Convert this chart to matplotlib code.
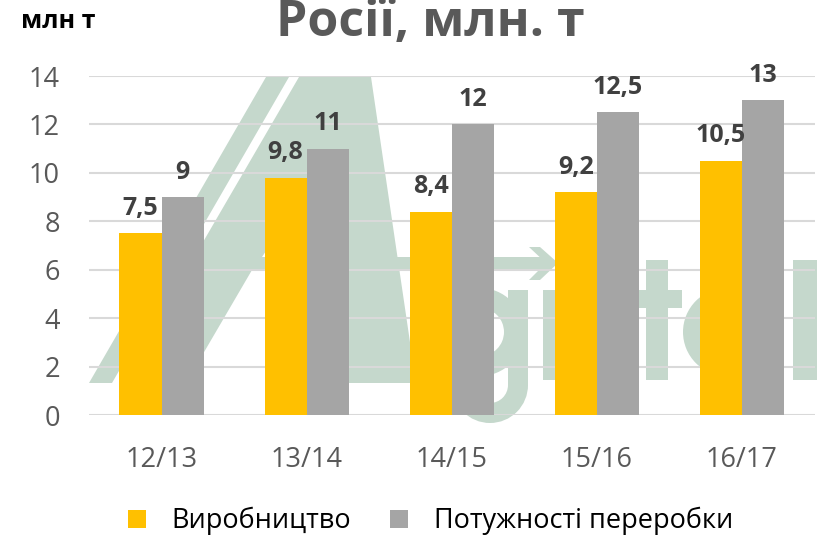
import numpy as np
import matplotlib.pyplot as plt
from matplotlib.patches import Polygon, Rectangle, Wedge

plt.rcParams['font.family'] = ['Open Sans', 'DejaVu Sans']

### DATA
seasons = ['12/13', '13/14', '14/15', '15/16', '16/17']
production = [7.5, 9.8, 8.4, 9.2, 10.5]
capacity = [9, 11, 12, 12.5, 13]
labels_prod = ['7,5', '9,8', '8,4', '9,2', '10,5']
labels_cap = ['9', '11', '12', '12,5', '13']
name_prod = 'Виробництво'
name_cap = 'Потужності переробки'

yellow = '#FFC000'
grey = '#A5A5A5'
wm = '#C5D8CC'   # watermark green

fig = plt.figure(figsize=(8.17, 5.38), dpi=100)

### watermark (background, in pixel coords)
bg = fig.add_axes([0, 0, 1, 1], zorder=-1)
bg.set_xlim(0, 817)
bg.set_ylim(538, 0)
bg.axis('off')
# thin stroke of the "A"
bg.add_patch(Polygon([(89, 383), (112, 383), (289, 77), (266, 77)], color=wm, lw=0))
# body of the "A" with the crossbar
bg.add_patch(Polygon([(299, 77), (371, 77), (416, 383), (345, 383), (335, 270),
                      (252, 270), (186, 383), (121, 383)], color=wm, lw=0))
bg.add_patch(Polygon([(262, 257), (332, 257), (300, 200)], color='white', lw=0))
# arrow
bg.add_patch(Rectangle((330, 257), 220, 13, color=wm, lw=0))
bg.add_patch(Polygon([(529, 247), (540, 247), (558, 263), (540, 280), (529, 280), (546, 263)],
                     color=wm, lw=0))
# "g"
bg.add_patch(Wedge((480, 332), 44, 0, 360, width=20, color=wm, lw=0))
bg.add_patch(Rectangle((508, 290), 20, 95, color=wm, lw=0))
bg.add_patch(Wedge((490, 385), 38, 0, 180, width=20, color=wm, lw=0))
# "r"
bg.add_patch(Rectangle((543, 290), 15, 90, color=wm, lw=0))
# "t"
bg.add_patch(Rectangle((646, 260), 22, 120, color=wm, lw=0))
bg.add_patch(Rectangle((638, 290), 44, 18, color=wm, lw=0))
# "e"
bg.add_patch(Wedge((727, 332), 44, 0, 360, width=20, color=wm, lw=0))
# "l"
bg.add_patch(Rectangle((793, 260), 24, 120, color=wm, lw=0))

### MAIN AXES
ax = fig.add_axes([89/817, 1-415/538, (814.5-89)/817, (415-76)/538])
ax.set_facecolor('none')
x = np.arange(len(seasons))
w = 0.29
b1 = ax.bar(x - w/2, production, w, color=yellow, label=name_prod, zorder=3)
b2 = ax.bar(x + w/2, capacity, w, color=grey, label=name_cap, zorder=3)
ax.bar_label(b1, labels=labels_prod, padding=9, fontsize=18, fontweight='bold', color='#404040')
ax.bar_label(b2, labels=labels_cap, padding=9, fontsize=18, fontweight='bold', color='#404040')

ax.set_xlim(-0.5, 4.5)
ax.set_ylim(0, 14)
ax.set_yticks(range(0, 15, 2))
ax.set_xticks(x)
ax.set_xticklabels(seasons)
ax.tick_params(axis='both', length=0, labelsize=19.5, labelcolor='#595959')
ax.tick_params(axis='x', pad=22)
ax.tick_params(axis='y', pad=21)
ax.grid(axis='y', color='#D9D9D9', lw=1.5, zorder=1)
for s in ax.spines.values():
    s.set_visible(False)

leg = fig.legend(loc='center', bbox_to_anchor=(0.527, 1-521/538), ncol=2, frameon=False,
                 fontsize=19.5, handlelength=0.65, handleheight=0.65, columnspacing=1.45,
                 handletextpad=0.95)
for t in leg.get_texts():
    t.set_color('#000000')

fig.text(21/817, 1-28/538, 'млн т', fontsize=18, fontweight='bold', color='#000000', va='baseline')
fig.text(430/817, 1-36/538, 'Росії, млн. т', fontsize=36, fontweight='bold', color='#595959',
         ha='center', va='baseline')

plt.savefig('out.png', dpi=100)
